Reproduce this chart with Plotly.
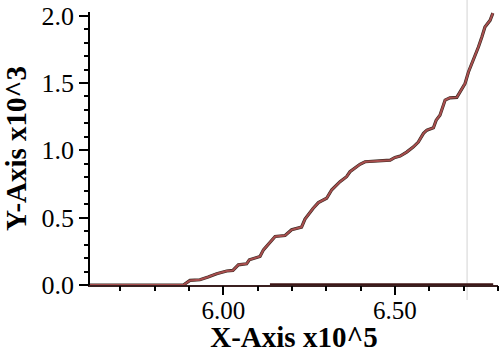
import plotly.graph_objects as go

# Data (x in units of 10^5, y in units of 10^3)
curve_x = [5.612, 5.884, 5.903, 5.932, 5.956, 5.981, 6.010, 6.028, 6.044, 6.068, 6.076,
           6.107, 6.117, 6.151, 6.180, 6.199, 6.228, 6.238, 6.262, 6.277, 6.301, 6.316,
           6.340, 6.359, 6.369, 6.398, 6.413, 6.456, 6.486, 6.500, 6.515, 6.534, 6.553,
           6.568, 6.583, 6.593, 6.612, 6.620, 6.631, 6.646, 6.660, 6.680, 6.689, 6.704,
           6.714, 6.728, 6.743, 6.753, 6.762, 6.777, 6.785]
curve_y = [0.0, 0.0, 0.034, 0.039, 0.059, 0.084, 0.104, 0.108, 0.150, 0.157, 0.187,
           0.212, 0.261, 0.360, 0.367, 0.410, 0.430, 0.489, 0.570, 0.612, 0.644, 0.707,
           0.767, 0.804, 0.841, 0.896, 0.915, 0.922, 0.927, 0.947, 0.957, 0.987, 1.024,
           1.061, 1.126, 1.150, 1.167, 1.224, 1.261, 1.373, 1.390, 1.393, 1.434, 1.496,
           1.582, 1.669, 1.767, 1.841, 1.916, 1.965, 2.019]
base_x = [6.136, 6.786]
base_y = [0.0, 0.0]
marker_x = 6.710

x_range = [5.612, 6.800]
y_range = [0.0, 2.027]
x_major_dtick = 0.5
y_major_dtick = 0.5
minor_dtick = 0.1
x_title = "X-Axis x10^5"
y_title = "Y-Axis x10^3"

serif = "Liberation Serif"

fig = go.Figure()
fig.add_trace(go.Scatter(x=base_x, y=base_y, mode="lines",
                         line=dict(color="#3e1616", width=3.5), showlegend=False, cliponaxis=False))
fig.add_trace(go.Scatter(x=curve_x, y=curve_y, mode="lines",
                         line=dict(color="#3a2a22", width=3.2), showlegend=False,
                         cliponaxis=False))
fig.add_trace(go.Scatter(x=curve_x, y=curve_y, mode="lines",
                         line=dict(color="#a84e4e", width=2), showlegend=False,
                         cliponaxis=False))
# invisible trace to carry the minor-tick overlay axes
fig.add_trace(go.Scatter(x=[x_range[0]], y=[y_range[0]], xaxis="x2", yaxis="y2", mode="markers",
                         marker=dict(opacity=0), showlegend=False, hoverinfo="skip"))

fig.add_shape(type="line", xref="x", yref="paper", x0=marker_x, x1=marker_x, y0=-0.055, y1=1.05,
              line=dict(color="#e2e2e2", width=1.5), layer="below")

fig.update_layout(
    width=500, height=353,
    margin=dict(l=90, r=2, t=12, b=68),
    paper_bgcolor="white", plot_bgcolor="white",
    font=dict(family=serif, color="black", size=25),
    xaxis=dict(
        range=x_range, showgrid=False, zeroline=False,
        showline=True, linecolor="#3a2020", linewidth=1.5,
        ticks="outside", ticklen=8, tickwidth=1.5, tickcolor="black",
        tick0=6.0, dtick=x_major_dtick, tickformat=".2f",
        tickfont=dict(family=serif, size=25), ticklabelstandoff=-6,
        title=dict(text="<b>" + x_title + "</b>", font=dict(family=serif, size=29), standoff=6),
        automargin=False,
    ),
    yaxis=dict(
        range=y_range, showgrid=False, zeroline=False,
        showline=True, linecolor="black", linewidth=1.5,
        ticks="outside", ticklen=9, tickwidth=1.5, tickcolor="black",
        tick0=0, dtick=y_major_dtick, tickformat=".1f",
        tickfont=dict(family=serif, size=26),
        title=dict(text="<b>" + y_title + "</b>", font=dict(family=serif, size=29), standoff=6),
        automargin=False,
    ),
    xaxis2=dict(
        range=x_range, overlaying="x", side="bottom", anchor="y2",
        showgrid=False, zeroline=False, showline=False, showticklabels=False,
        ticks="outside", ticklen=5, tickwidth=1.5, tickcolor="black",
        tick0=6.0, dtick=minor_dtick,
    ),
    yaxis2=dict(
        range=y_range, overlaying="y", side="left", anchor="x2",
        showgrid=False, zeroline=False, showline=False, showticklabels=False,
        ticks="outside", ticklen=5, tickwidth=1.5, tickcolor="black",
        tick0=0, dtick=minor_dtick,
    ),
)

fig.write_html("out.html")
